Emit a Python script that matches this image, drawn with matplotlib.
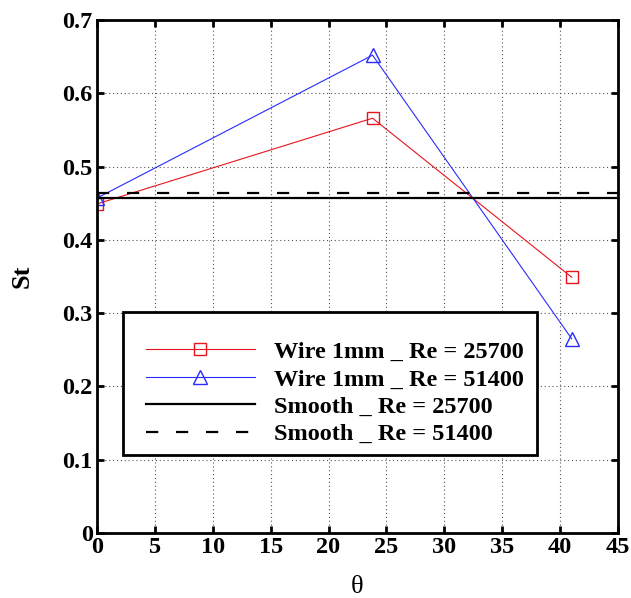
import matplotlib
matplotlib.use("Agg")
import matplotlib.pyplot as plt
from matplotlib.patches import Rectangle

theta = [0, 23.8, 41.0]
st_wire_25700 = [0.449, 0.566, 0.349]
st_wire_51400 = [0.457, 0.652, 0.265]
st_smooth_25700 = 0.4575
st_smooth_51400 = 0.464
x_ticks = [0, 5, 10, 15, 20, 25, 30, 35, 40, 45]
y_ticks = [0, 0.1, 0.2, 0.3, 0.4, 0.5, 0.6, 0.7]
y_tick_labels = ["0", "0.1", "0.2", "0.3", "0.4", "0.5", "0.6", "0.7"]
labels = ["Wire 1mm _ Re = 25700", "Wire 1mm _ Re = 51400",
          "Smooth _ Re = 25700", "Smooth _ Re = 51400"]

plt.rcParams['font.family'] = ['Liberation Serif', 'DejaVu Serif']
fig = plt.figure(figsize=(6.31, 5.98), dpi=100)
ax = fig.add_axes([97/631, 1 - 533/598, 521/631, 513/598])

l1, = ax.plot(theta, st_wire_25700, color='#e8141c', lw=0.8, marker='s', ms=9,
              mfc='none', mec='#e8141c', mew=1.0)
l2, = ax.plot(theta, st_wire_51400, color='#2a2aff', lw=0.8, marker='^', ms=10,
              mfc='none', mec='#2a2aff', mew=1.0)
l3 = ax.axhline(st_smooth_25700, color='black', lw=1.6)
l4 = ax.axhline(st_smooth_51400, color='black', lw=1.6, ls=(0, (5.5, 8)))

ax.set_xlim(0, 45)
ax.set_ylim(0, 0.7)
ax.set_xticks(x_ticks)
ax.set_yticks(y_ticks)
ax.set_yticklabels(y_tick_labels)
ax.grid(True, color='#555555', ls=(0, (1, 2.5)), lw=0.8)
ax.tick_params(direction='in', length=5, width=2, top=True, right=True,
               labelsize=17.5, pad=3)
for lab in ax.get_xticklabels() + ax.get_yticklabels():
    lab.set_fontweight('bold')
for sp in ax.spines.values():
    sp.set_linewidth(2)

ax.set_ylabel("St", fontsize=19, fontweight='bold', labelpad=21)
ax.set_xlabel("θ", fontsize=19, labelpad=13)

rect = Rectangle((0.05, 0.152), 0.795, 0.279, transform=ax.transAxes,
                 facecolor='white', edgecolor='black', lw=2, zorder=4)
ax.add_patch(rect)
leg = ax.legend([l1, l2, l3, l4], labels, loc='upper left',
                bbox_to_anchor=(0.07, 0.398), frameon=False, numpoints=1,
                prop={'weight': 'bold', 'size': 17.5}, handlelength=4.5,
                handletextpad=0.8, labelspacing=0.22, borderpad=0)
leg.set_zorder(5)

fig.savefig("out.png", dpi=100)
